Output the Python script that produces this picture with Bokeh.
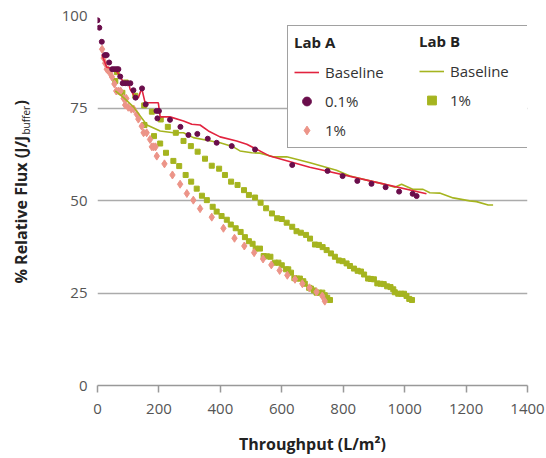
import math
from bokeh.plotting import figure
from bokeh.layouts import row
from bokeh.models import Legend, LegendItem, FixedTicker, Range1d
from bokeh.core.properties import value
from bokeh.embed import file_html
from bokeh.resources import INLINE

# ---------------- data ----------------
lab_a_base_x = [14, 30, 58, 72, 85, 101, 106, 123, 133, 144, 155, 198, 204, 236, 280, 307, 334, 361,
                399, 453, 486, 561, 691, 724, 887, 1071]
lab_a_base_y = [89.5, 86, 85.5, 83.7, 81.9, 81.9, 80.1, 77.8, 77.8, 80.3, 76.4, 76.4, 72.6, 72.6, 71.5,
                70.6, 70.4, 68.8, 67.2, 66.1, 65.2, 62.0, 59.0, 58.4, 55.3, 51.8]

lab_a_01_x = [0, 6, 14, 24, 30, 38, 48, 55, 62, 68, 74, 82, 90, 98, 107, 117, 124, 145, 157, 192, 200,
              195, 236, 270, 296, 325, 359, 388, 437, 513, 634, 749, 798, 846, 892, 938, 982, 1026, 1039]
lab_a_01_y = [98.7, 96.7, 92.9, 89.3, 89.3, 87.3, 85.5, 85.5, 85.5, 85.5, 83.5, 81.7, 81.7, 81.7, 81.7,
              79.8, 77.8, 80.3, 76.0, 74.2, 74.2, 72.2, 71.8, 69.9, 67.7, 68.0, 66.7, 65.6, 64.7, 63.8,
              59.6, 58.0, 56.6, 55.3, 54.5, 53.6, 52.4, 51.8, 51.2]

lab_a_1_x = [15, 20, 25, 30, 35, 40, 47, 55, 61, 68, 75, 85, 94, 90, 100, 110, 118, 128, 133, 144, 150,
             160, 171, 177, 183, 189, 193, 218, 244, 269, 291, 312, 334, 372, 410, 446, 478, 510, 539,
             566, 593, 618, 643, 667, 690, 713, 732, 740]
lab_a_1_y = [90.9, 88.5, 87.1, 85.5, 85.3, 84.5, 83.4, 81.5, 79.6, 79.6, 79.6, 77.6, 77.6, 75.8, 75.2,
             74.7, 74.7, 73.3, 72.0, 70.1, 68.3, 68.3, 66.5, 64.5, 64.5, 64.5, 62.0, 59.9, 56.9, 54.4,
             51.9, 50.1, 47.8, 45.5, 42.5, 39.8, 37.7, 35.9, 34.2, 32.6, 31.1, 29.8, 28.7, 27.5, 26.4,
             25.3, 24.2, 22.8]

lab_b_base_x = [58, 85, 117, 161, 204, 247, 280, 312, 356, 399, 442, 464, 502, 529, 572, 616, 692, 778,
                822, 887, 930, 968, 990, 1028, 1060, 1082, 1114, 1158, 1212, 1234, 1272, 1288]
lab_b_base_y = [79.6, 77.8, 75.3, 70.4, 68.8, 68.3, 68.3, 67.0, 66.3, 65.6, 64.5, 63.4, 62.9, 62.8, 61.8,
                61.8, 60.2, 58.2, 56.6, 55.3, 54.5, 53.6, 54.4, 53.0, 53.0, 52.1, 52.0, 50.7, 49.9, 49.7,
                48.8, 48.8]

lab_b_1_run1_x = [63, 92, 123, 152, 177, 206, 229, 255, 280, 304, 326, 350, 372, 396, 415, 435, 456, 477,
                  493, 513, 531, 549, 568, 585, 600, 616, 634, 648, 662, 679, 692, 708, 721, 733, 746,
                  760, 773, 786, 798, 811, 822, 835, 847, 858, 868, 881, 890, 900, 911, 922, 932, 943,
                  954, 963, 968, 979, 989, 998, 1006, 1015, 1024]
lab_b_1_run1_y = [84.7, 81.9, 78.3, 75.7, 74.0, 71.9, 69.9, 68.3, 66.1, 64.7, 63.2, 61.3, 59.4, 58.6,
                  56.9, 55.1, 54.2, 52.8, 51.5, 50.8, 49.4, 47.9, 46.5, 45.2, 45.0, 44.0, 42.9, 41.7,
                  41.3, 40.7, 39.7, 38.1, 38.0, 37.4, 36.6, 35.7, 34.8, 33.8, 33.6, 33.0, 32.3, 31.6,
                  31.0, 30.8, 30.0, 28.9, 28.8, 28.7, 27.6, 27.5, 27.4, 26.8, 26.6, 26.0, 25.2, 24.8,
                  24.8, 24.8, 24.2, 23.4, 23.1]

lab_b_1_run2_x = [58, 81, 153, 184, 204, 223, 247, 266, 287, 305, 323, 340, 356, 375, 388, 404, 421, 434,
                  450, 466, 480, 493, 505, 515, 529, 541, 552, 563, 578, 589, 600, 614, 621, 630, 641,
                  650, 659, 670, 675, 689, 695, 705, 713, 722, 732, 740, 748, 757]
lab_b_1_run2_y = [82.3, 79.1, 70.4, 67.4, 65.4, 62.9, 60.7, 59.3, 56.9, 55.1, 53.2, 51.3, 50.1, 48.3,
                  47.0, 45.8, 44.8, 43.5, 42.5, 41.5, 40.1, 39.0, 38.3, 37.0, 37.0, 35.0, 34.9, 34.8,
                  33.2, 33.2, 32.5, 31.4, 31.4, 30.5, 29.0, 28.9, 28.9, 28.2, 27.5, 26.4, 26.2, 25.7,
                  25.1, 25.1, 25.1, 24.4, 23.7, 23.1]

x_ticks = [0, 200, 400, 600, 800, 1000, 1200, 1400]
y_ticks = [0, 25, 50, 75, 100]

y_title_parts = ["% Relative Flux (J/J", "buffer", ")"]

# ---------------- styling ----------------
FONT = "Open Sans"
RED = "#E2233F"
PURPLE = "#6A0D4B"
SALMON = "#EC9488"
GREEN = "#A5B41F"
GRID = "#ababab"
TICK_TXT = "#555555"
TITLE_TXT = "#222222"

H = 458
LEFT_W = 40          # narrow strip holding the rotated y-axis title
TOP, BOTTOM = 15, 73  # borders around the plotting frame

p = figure(width=546 - LEFT_W, height=H, output_backend="svg", toolbar_location=None,
           x_range=Range1d(0, 1400), y_range=Range1d(0, 100),
           min_border_left=97 - LEFT_W, min_border_right=19, min_border_top=TOP, min_border_bottom=BOTTOM)
p.outline_line_color = None
p.background_fill_color = "white"
p.border_fill_color = "white"

p.xgrid.grid_line_color = None
p.ygrid.grid_line_color = GRID
p.ygrid.grid_line_width = 1.5
p.ygrid.ticker = FixedTicker(ticks=y_ticks)

p.xaxis.ticker = FixedTicker(ticks=x_ticks)
p.yaxis.ticker = FixedTicker(ticks=y_ticks)

p.xaxis.axis_line_color = "#999999"
p.xaxis.axis_line_width = 1.5
p.xaxis.major_tick_line_color = "#999999"
p.xaxis.major_tick_line_width = 1.5
p.xaxis.major_tick_out = 7
p.xaxis.major_tick_in = 0
p.xaxis.minor_tick_line_color = None
p.xaxis.major_label_text_font = FONT
p.xaxis.major_label_text_font_size = "15px"
p.xaxis.major_label_text_color = TICK_TXT
p.xaxis.major_label_standoff = 11
p.xaxis.axis_label = "Throughput (L/m²)"
p.xaxis.axis_label_text_font = FONT
p.xaxis.axis_label_text_font_size = "16px"
p.xaxis.axis_label_text_font_style = "bold"
p.xaxis.axis_label_text_color = TITLE_TXT
p.xaxis.axis_label_standoff = 16

p.yaxis.axis_line_color = None
p.yaxis.major_tick_line_color = None
p.yaxis.major_tick_out = 0
p.yaxis.major_tick_in = 0
p.yaxis.minor_tick_line_color = None
p.yaxis.minor_tick_out = 0
p.yaxis.major_label_text_font = FONT
p.yaxis.major_label_text_font_size = "15px"
p.yaxis.major_label_text_color = TICK_TXT
p.yaxis.major_label_standoff = 10

# ---------------- glyphs ----------------
sq2 = p.scatter(lab_b_1_run2_x, lab_b_1_run2_y, marker="square", size=5, color=GREEN)
sq1 = p.scatter(lab_b_1_run1_x, lab_b_1_run1_y, marker="square", size=5, color=GREEN)
dia = p.scatter(lab_a_1_x, lab_a_1_y, marker="diamond", size=8, color=SALMON)
lb = p.line(lab_b_base_x, lab_b_base_y, color=GREEN, line_width=1.6)
la = p.line(lab_a_base_x, lab_a_base_y, color=RED, line_width=1.6)
dots = p.scatter(lab_a_01_x, lab_a_01_y, marker="circle", size=5, color=PURPLE)

# ---------------- legends ----------------
common = dict(label_text_font=FONT, label_text_font_size="15px", label_text_color="#333333",
              title_text_font=FONT, title_text_font_size="15px", title_text_font_style="bold",
              title_text_color="#222222", glyph_width=25, glyph_height=22, label_height=22,
              label_standoff=6, spacing=7, padding=6, title_standoff=9, margin=0)

leg_a = Legend(items=[LegendItem(label="Baseline", renderers=[la]),
                      LegendItem(label="0.1%", renderers=[dots]),
                      LegendItem(label="1%", renderers=[dia])],
               title="Lab A", location=(190, 237), label_width=197,
               border_line_color="#444444", border_line_width=1.5,
               background_fill_color="white", background_fill_alpha=1.0, **common)
leg_b = Legend(items=[LegendItem(label="Baseline", renderers=[lb]),
                      LegendItem(label="1%", renderers=[sq1])],
               title="Lab B", location=(322, 274), border_line_color=None,
               background_fill_alpha=0.0, **common)
p.add_layout(leg_a, "center")
p.add_layout(leg_b, "center")

# ---------------- y axis title strip ----------------
# The row aligns this strip's frame with the main frame (canvas rows TOP .. H-BOTTOM);
# its y range is set so that y = distance in px from the bottom of the page.
t = figure(width=LEFT_W, height=H, output_backend="svg", toolbar_location=None,
           x_range=Range1d(0, LEFT_W), y_range=Range1d(BOTTOM, H - TOP),
           min_border_left=0, min_border_right=0, min_border_top=TOP, min_border_bottom=BOTTOM)
t.axis.visible = False
t.grid.visible = False
t.outline_line_color = None
t.background_fill_color = "white"
t.border_fill_color = "white"

t.text(x=[20], y=[H - 283], text=[y_title_parts[0]], angle=math.pi / 2,
       text_font=value(FONT), text_font_size="16px", text_font_style="bold",
       text_color=TITLE_TXT, text_align="left", text_baseline="middle")
t.text(x=[25], y=[H - 134], text=[y_title_parts[1]], angle=math.pi / 2,
       text_font=value(FONT), text_font_size="10px",
       text_color=TITLE_TXT, text_align="left", text_baseline="middle")
t.text(x=[20], y=[H - 105], text=[y_title_parts[2]], angle=math.pi / 2,
       text_font=value(FONT), text_font_size="16px", text_font_style="bold",
       text_color=TITLE_TXT, text_align="left", text_baseline="middle")

layout = row(t, p, spacing=0)
open("out.html", "w").write(file_html(layout, INLINE))
